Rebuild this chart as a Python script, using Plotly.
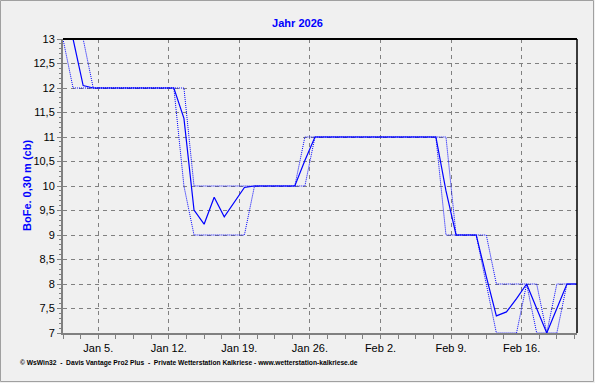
import plotly.graph_objects as go
import pandas as pd

# ---- data (daily values, plotted at noon) ----
start_day = "2026-01-01 12:00"
n_days = 52
mean_vals = [13, 13, 12.05, 12, 12, 12, 12, 12, 12, 12, 12, 12,
             11.38, 9.51, 9.22, 9.77, 9.37, 9.68, 9.97, 10, 10, 10, 10, 10,
             10.52, 11, 11, 11, 11, 11, 11, 11, 11, 11, 11, 11, 11, 11,
             9.9, 9, 9, 9, 8.15, 7.35, 7.43, 7.7, 8, 7.5, 7.0, 7.5, 8, 8]
min_vals = [13, 12, 12, 12, 12, 12, 12, 12, 12, 12, 12, 12,
            10, 9, 9, 9, 9, 9, 9, 10, 10, 10, 10, 10,
            10, 11, 11, 11, 11, 11, 11, 11, 11, 11, 11, 11, 11, 11,
            9, 9, 9, 9, 8, 7, 7, 7, 8, 7, 7, 7, 8, 8]
max_vals = [13, 13, 13, 12, 12, 12, 12, 12, 12, 12, 12, 12,
            12, 10, 10, 10, 10, 10, 10, 10, 10, 10, 10, 10,
            11, 11, 11, 11, 11, 11, 11, 11, 11, 11, 11, 11, 11, 11,
            11, 9, 9, 9, 9, 8, 8, 8, 8, 8, 7, 8, 8, 8]
tick_dates = ["2026-01-05", "2026-01-12", "2026-01-19", "2026-01-26",
              "2026-02-02", "2026-02-09", "2026-02-16"]
tick_labels = ["Jan 5.", "Jan 12.", "Jan 19.", "Jan 26.", "Feb 2.", "Feb 9.", "Feb 16."]
title_text = "Jahr 2026"
y_title = "BoFe. 0,30 m (cb)"
footer = ("© WsWin32  -  Davis Vantage Pro2 Plus  -  Private Wetterstation Kalkriese - "
          "www.wetterstation-kalkriese.de")

dates = pd.date_range(start_day, periods=n_days, freq="D")

W, H = 595, 383
L, R, T, B = 63, 18, 39, 50
pw, ph = W - L - R, H - T - B
BG = "#f0f0f0"
BLUE = "#0000ff"
FONT = "Liberation Sans, Arial, sans-serif"

fig = go.Figure()
fig.add_trace(go.Scatter(x=dates, y=max_vals, mode="lines",
                         line=dict(color=BLUE, width=1, dash="1px,1px"), hoverinfo="skip"))
fig.add_trace(go.Scatter(x=dates, y=min_vals, mode="lines",
                         line=dict(color=BLUE, width=1, dash="1px,1px"), hoverinfo="skip"))
fig.add_trace(go.Scatter(x=dates, y=mean_vals, mode="lines",
                         line=dict(color=BLUE, width=1.2), hoverinfo="skip"))


def px_x(p):
    return (p - L) / pw


def px_y(p):
    return (H - B - p) / ph


fig.update_layout(
    width=W, height=H,
    margin=dict(l=L, r=R, t=T, b=B),
    paper_bgcolor=BG, plot_bgcolor=BG,
    showlegend=False,
    separators=",.",
    font=dict(family=FONT, size=11, color="black"),
    title=dict(text="<b>" + title_text + "</b>", x=0.5, xref="container",
               y=1 - 23 / H, yref="container", xanchor="center", yanchor="middle",
               font=dict(family=FONT, size=11, color=BLUE)),
    xaxis=dict(type="date", range=["2026-01-01 12:00", "2026-02-21 12:00"],
               tickmode="array", tickvals=tick_dates, ticktext=tick_labels,
               showgrid=True, gridcolor="#808080", griddash="4px,4px", gridwidth=1,
               showline=True, linecolor="#808080", linewidth=2,
               ticks="outside", ticklen=4, tickcolor="#808080", tickwidth=1,
               tickfont=dict(family=FONT, size=11, color="black"),
               minor=dict(tickmode="linear", tick0="2026-01-05", dtick=1.75 * 86400000,
                          ticks="outside", ticklen=4, tickcolor="#808080", showgrid=False),
               zeroline=False, fixedrange=True),
    yaxis=dict(range=[7, 13], dtick=0.5, tick0=7,
               showgrid=True, gridcolor="#808080", griddash="4px,4px", gridwidth=1,
               showline=True, linecolor="#808080", linewidth=2,
               ticks="outside", ticklen=4, tickcolor="#808080", tickwidth=1,
               tickfont=dict(family=FONT, size=11, color="black"),
               minor=dict(dtick=0.1, ticks="outside", ticklen=2, tickcolor="#808080",
                          showgrid=False),
               zeroline=False, fixedrange=True),
    shapes=[
        dict(type="line", xref="paper", yref="paper", x0=0, x1=1, y0=1, y1=1,
             line=dict(color="black", width=2)),
        dict(type="line", xref="paper", yref="paper", x0=1, x1=1, y0=0, y1=1,
             line=dict(color="black", width=1.5)),
        dict(type="rect", xref="paper", yref="paper",
             x0=px_x(0.5), x1=px_x(W - 1.5), y0=px_y(H - 1.5), y1=px_y(0.5),
             line=dict(color="#a0a0a0", width=1)),
    ],
    annotations=[
        dict(text="<b>" + y_title + "</b>", textangle=-90, xref="paper", yref="paper",
             x=px_x(27), y=0.5, xanchor="center", yanchor="middle", showarrow=False,
             font=dict(family=FONT, size=11, color=BLUE)),
        dict(text="<b>" + footer + "</b>", xref="paper", yref="paper", x=px_x(18), y=px_y(363),
             xanchor="left", yanchor="middle", showarrow=False,
             font=dict(family=FONT, size=6.7, color="black")),
    ],
)

fig.write_html("out.html")
